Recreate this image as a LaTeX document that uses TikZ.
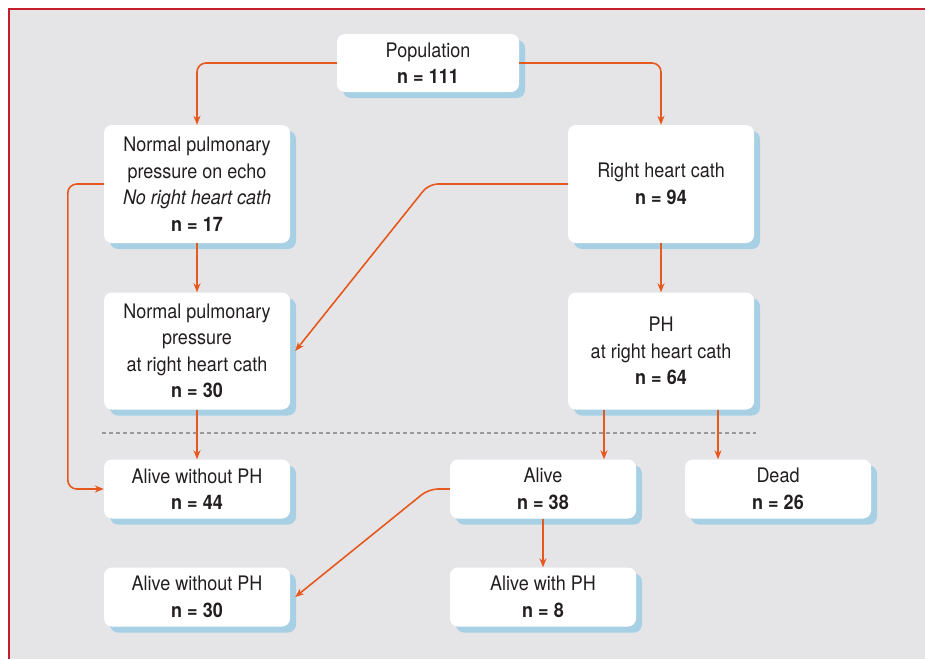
\documentclass[tikz,border=0pt]{standalone}
\usepackage{fontspec}
\setmainfont{TeX Gyre Heros}[FakeStretch=0.9]
\usetikzlibrary{arrows.meta,shadows}
\definecolor{bggray}{RGB}{229,229,232}
\definecolor{framered}{RGB}{196,30,45}
\definecolor{arrorange}{RGB}{230,88,30}
\definecolor{shadowblue}{RGB}{167,208,228}
\definecolor{textblack}{RGB}{35,31,32}
\begin{document}
\begin{tikzpicture}[x=1pt,y=-1pt,
    box/.style={fill=white,rounded corners=8pt,align=center,minimum width=186pt,
      text=textblack,font=\fontsize{20}{26.5}\selectfont,
      drop shadow={shadow xshift=6pt,shadow yshift=-6pt,fill=shadowblue,opacity=1}},
    arr/.style={draw=arrorange,line width=1.6pt,rounded corners=9pt,
      -{Stealth[length=9pt,width=7pt]}},
    sepline/.style={draw=gray!80,line width=1.2pt,dash pattern=on 4pt off 3pt}]
    \useasboundingbox (0,0) rectangle (925,659);
    % background and frame
    \fill[bggray] (9,9) rectangle (925,659);
    \draw[framered,line width=2.6pt] (9,659) -- (9,9) -- (925,9);
    \coordinate (sepL) at (102,433);
    \coordinate (sepR) at (756,433);
    \draw[sepline] (sepL) -- (sepR);
    % boxes
    \node[box,minimum width=182pt,minimum height=58pt] (pop) at (428,63) {Population\\\textbf{n = 111}};
    \node[box,minimum height=118pt] (echo) at (197,184) {Normal pulmonary\\pressure on echo\\\textit{No right heart cath}\\\textbf{n = 17}};
    \node[box,minimum height=118pt] (rhc) at (661,184) {Right heart cath\\\textbf{n = 94}};
    \node[box,minimum height=117pt] (nrhc) at (197,351) {Normal pulmonary\\pressure\\at right heart cath\\\textbf{n = 30}};
    \node[box,minimum height=117pt] (ph) at (661,351) {PH\\at right heart cath\\\textbf{n = 64}};
    \node[box,minimum height=59pt] (alivea) at (197,489) {Alive without PH\\\textbf{n = 44}};
    \node[box,minimum height=59pt] (alive) at (543,489) {Alive\\\textbf{n = 38}};
    \node[box,minimum height=59pt] (dead) at (778,489) {Dead\\\textbf{n = 26}};
    \node[box,minimum height=59pt] (aliveb) at (197,597) {Alive without PH\\\textbf{n = 30}};
    \node[box,minimum height=59pt] (aliveph) at (543,597) {Alive with PH\\\textbf{n = 8}};
    % arrows
    \draw[arr] (pop.west) -| (echo.north);
    \draw[arr] (pop.east) -| (rhc.north);
    \draw[arr] (echo.west) -- ++(-36,0) |- (alivea.west);
    \draw[arr] (echo.south) -- (nrhc.north);
    \draw[arr] (rhc.west) -- ++(-139,0) -- ([xshift=5pt]nrhc.east);
    \draw[arr] (rhc.south) -- (ph.north);
    \draw[arr] (nrhc.south) -- (alivea.north);
    \draw[arr] ([xshift=-57pt]ph.south) -- ([xshift=-57pt]ph.south |- alive.north);
    \draw[arr] ([xshift=57pt]ph.south) -- ([xshift=57pt]ph.south |- dead.north);
    \draw[arr] (alive.west) -- ++(-21,0) -- ([xshift=5pt]aliveb.east);
    \draw[arr] (alive.south) -- (aliveph.north);
\end{tikzpicture}
\end{document}
